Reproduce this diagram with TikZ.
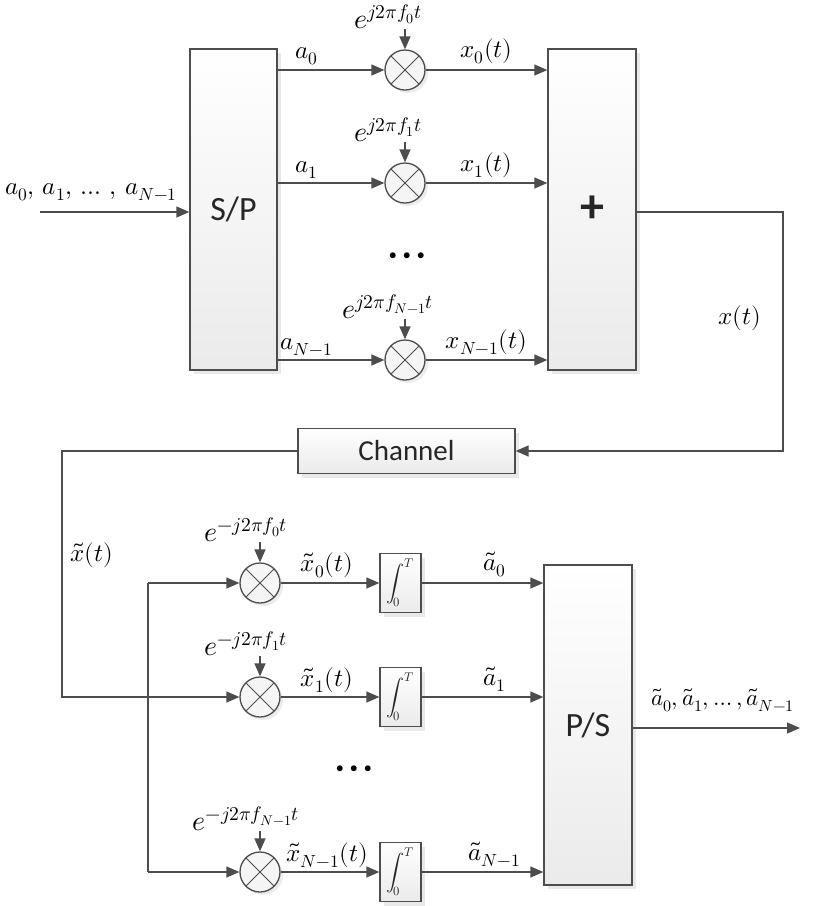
\documentclass[tikz,border=0pt]{standalone}
\usepackage{fontspec}
\usepackage{unicode-math}
\setmathfont{Latin Modern Math}
\setsansfont{Carlito}
\usetikzlibrary{positioning,arrows.meta,shadows}
\definecolor{ln}{HTML}{4D4D4D}

\tikzset{
  line/.style={draw=ln, line width=1.3pt},
  blk/.style={draw=ln, line width=1.3pt, top color=white, bottom color=black!8,
    drop shadow={shadow xshift=4pt, shadow yshift=-4pt, fill=black!12, opacity=.7},
    font=\sffamily\fontsize{34}{34}\selectfont, text=black!85, inner sep=0pt},
  mult/.style={circle, draw=ln, line width=1.3pt, minimum size=40pt, inner sep=0pt,
    fill=black!4, drop shadow={shadow xshift=3pt, shadow yshift=-3pt, fill=black!12, opacity=.6},
    path picture={\draw[ln, line width=1pt]
      (path picture bounding box.south west) -- (path picture bounding box.north east)
      (path picture bounding box.north west) -- (path picture bounding box.south east);}},
  integ/.style={blk, minimum width=41pt, minimum height=59pt, font=\fontsize{18}{18}\selectfont},
  lbl/.style={font=\fontsize{25}{27}\selectfont, inner sep=1pt},
  expo/.style={font=\fontsize{28}{30}\selectfont, inner sep=0pt},
  dots/.style={font=\fontsize{15}{15}\selectfont, inner sep=0pt},
}

\begin{document}
\begin{tikzpicture}[x=1pt, y=-1pt, >={Triangle[length=13pt,width=11pt]}]
\useasboundingbox (0,0) rectangle (817,906);

% transmitter
\node[blk, minimum width=87pt, minimum height=321pt] (sp) at (233.5,209.5) {S/P};
\node[blk, minimum width=88pt, minimum height=321pt, font=\sffamily\bfseries\fontsize{48}{48}\selectfont] (sum) at (592,209.5) {+};

\coordinate (in) at (40,212);
\node[lbl, anchor=south west] (inlbl) at (4,202) {$a_0,\, a_1,\, \ldots\,,\, a_{N-1}$};
\draw[line,->] (in) -- (in -| sp.west);

\foreach \i/\y/\f in {0/70/0, 1/183/1, 2/360/{N-1}} {
  \node[mult] (m\i) at (405,\y) {};
  \node[expo, above=20pt of m\i, xshift=-17pt] (e\i) {$e^{j2\pi f_{\f} t}$};
  \draw[line,->] (e\i.south -| m\i) -- (m\i);
  \draw[line,->] (sp.east |- m\i) -- node[lbl, above=3pt, pos=.27] {$a_{\f}$} (m\i);
  \draw[line,->] (m\i) -- node[lbl, above=4pt] {$x_{\f}(t)$} (m\i -| sum.west);
}
\node[dots] (dt) at (407,256) {$\mathord{\bullet}\;\,\mathord{\bullet}\;\,\mathord{\bullet}$};

% channel
\node[blk, minimum width=217pt, minimum height=45pt, font=\sffamily\fontsize{29}{29}\selectfont] (chan) at (406.5,451) {Channel};
\coordinate (xr) at (783,451);
\draw[line,->] (sum.east |- in) -| (xr) -- (chan.east);
\node[lbl] (xt) at (740,318) {$x(t)$};

% receiver
\node[blk, minimum width=88pt, minimum height=320pt] (ps) at (588,725) {P/S};
\coordinate (xl) at (62,697);
\coordinate (b0) at (148,583);
\coordinate (b2) at (148,872);
\node[lbl] (xtil) at (92,555) {$\tilde{x}(t)$};

\foreach \i/\y/\f in {0/583/0, 1/697/1, 2/872/{N-1}} {
  \node[mult] (n\i) at (260,\y) {};
  \node[expo, above=20pt of n\i, xshift=-14pt] (g\i) {$e^{-j2\pi f_{\f} t}$};
  \draw[line,->] (g\i.south -| n\i) -- (n\i);
  \node[integ] (q\i) at (400.5,\y) {$\displaystyle\int_0^T$};
  \draw[line,->] (n\i) -- node[lbl, above=3pt, xshift=-3pt] {$\tilde{x}_{\f}(t)$} (q\i);
  \draw[line,->] (q\i) -- node[lbl, above=4pt, pos=.6] {$\tilde{a}_{\f}$} (q\i -| ps.west);
}
\draw[line,->] (chan.west) -| (xl) -- (n1);
\draw[line] (b0) -- (b2);
\draw[line,->] (b0) -- (n0);
\draw[line,->] (b2) -- (n2);
\node[dots] (db) at (354,769) {$\mathord{\bullet}\;\,\mathord{\bullet}\;\,\mathord{\bullet}$};

\coordinate (out) at (800,728);
\draw[line,->] (ps.east |- out) -- (out);
\node[lbl, font=\fontsize{23}{25}\selectfont, anchor=south west] (outlbl) at (650,713) {$\tilde{a}_0, \tilde{a}_1, \ldots, \tilde{a}_{N-1}$};
\end{tikzpicture}
\end{document}
